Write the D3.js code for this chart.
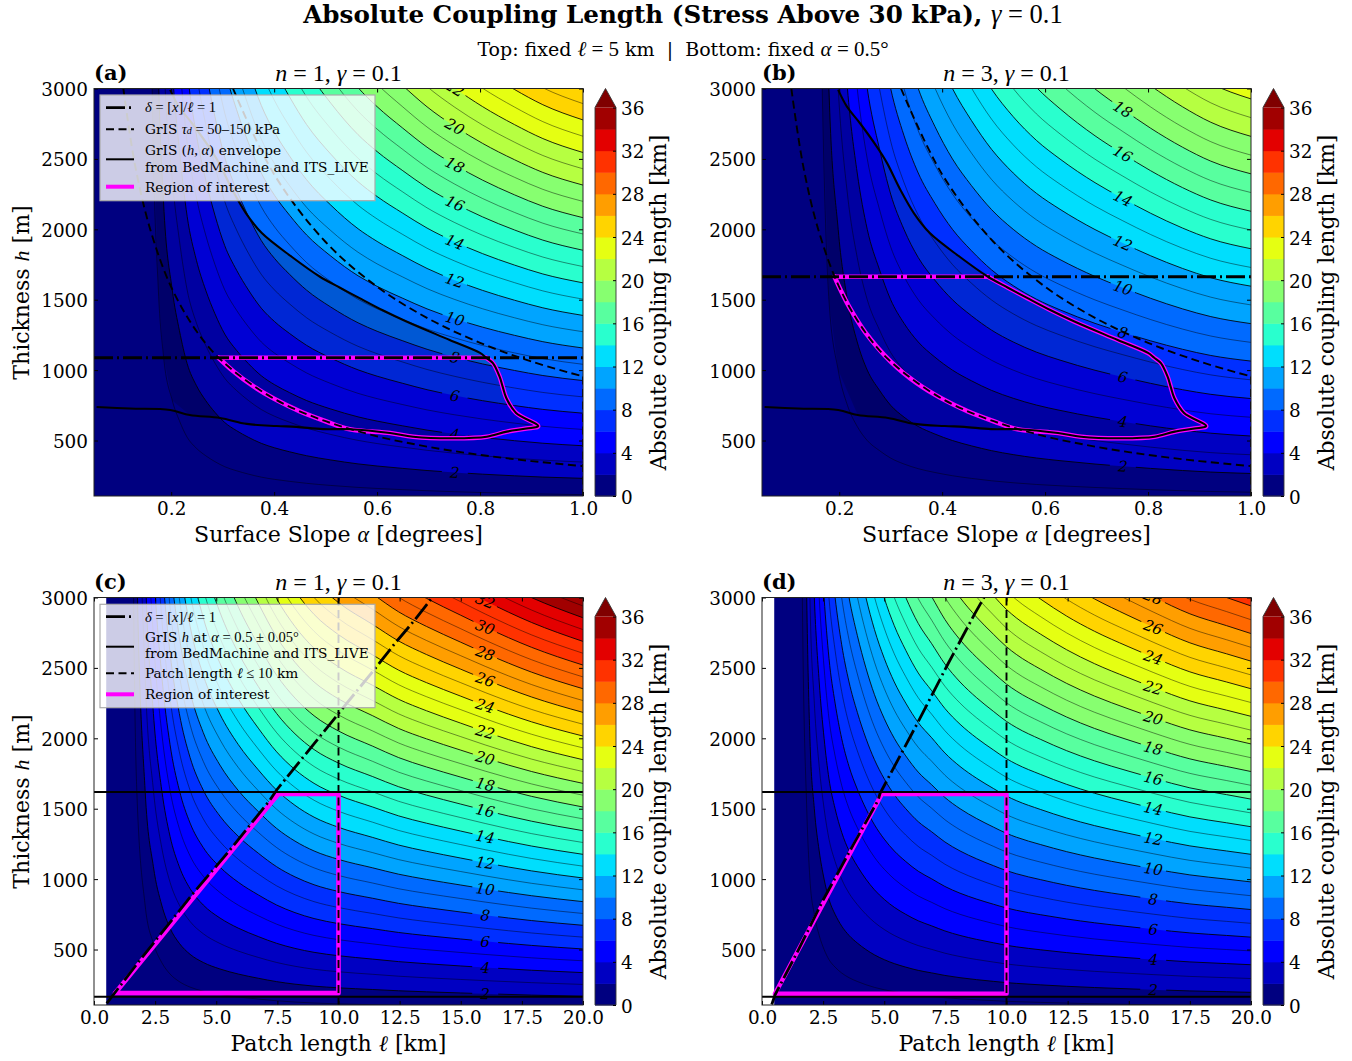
<!DOCTYPE html>
<html>
<head>
<meta charset="utf-8">
<script src="https://cdn.jsdelivr.net/npm/d3@7"></script>
<style>
body { margin: 0; background: #fff; }
text { font-family: "DejaVu Serif", serif; fill: #000; }
</style>
</head>
<body>
<svg id="chart" width="1352" height="1061"></svg>
<script>
// contour levels and colorbar
const contourLevels = d3.range(1, 37)
const bandEdges = d3.range(0, 38, 2)
const barTicks = [0, 4, 8, 12, 16, 20, 24, 28, 32, 36]
const labelLevels = d3.range(2, 36, 2)

// the field reads as proportional to thickness, so each panel is kept as one profile
// metres of ice per km of coupling length along the x axis
const slopeA = [.05, .10, .13, .15, .163, .175, .185, .202, .216, .231, .249, .267, .285, .304, .327, .35, .375, .401, .43, .463, .51, .563, .6, .65, .697, .751, .805, .867, .922, 1]
const metresA = [300000, 100000, 30000, 8000, 3000, 1569, 1100, 785, 640, 523, 445, 392, 350, 314, 285, 261.5, 240, 224, 210, 196, 181, 167, 159.5, 151, 143.5, 136.5, 130.5, 124.7, 120.2, 115.7]

const slopeB = [.05, .10, .13, .155, .167, .18, .198, .216, .235, .2545, .278, .30, .326, .3535, .386, .42, .457, .496, .538, .583, .629, .697, .751, .805, .867, .922, 1]
const metresB = [300000, 100000, 30000, 6000, 3000, 1500, 1000, 750, 600, 500, 429, 375, 333, 300, 273, 250, 231, 214, 200, 188, 178.5, 166.5, 158.5, 151, 143.5, 138, 133]

const patchC = [.5, 1, 1.3, 1.48, 1.62, 1.75, 2.09, 2.43, 2.77, 3.11, 3.49, 3.93, 4.47, 5.15, 5.9, 6.72, 7.47, 8.22, 9, 10, 11.4, 12.46, 13.6, 15, 16, 17.9, 20]
const metresC = [300000, 100000, 30000, 7000, 3000, 1632, 816, 544, 408, 326, 272, 233, 204, 181, 163, 148, 136, 127, 120, 114, 108, 103.5, 99.8, 95.8, 93, 88.2, 84]

const patchD = [.5, 1, 1.3, 1.5, 1.65, 1.83, 1.96, 2.14, 2.34, 2.54, 2.74, 2.99, 3.26, 3.56, 3.9, 4.25, 4.6, 5, 5.41, 5.88, 6.39, 6.94, 7.48, 8.1, 8.78, 9.46, 10, 10.4, 11.4, 12.46, 13.6, 14.97, 16, 17.5, 19, 20]
const metresD = [300000, 100000, 30000, 7000, 3000, 1500, 1000, 750, 600, 500, 428, 375, 333, 300, 273, 250, 231, 214, 200, 187.5, 176, 167, 158, 150, 143, 137, 132.5, 129.8, 124.5, 119.5, 115, 110.5, 107.3, 103, 100, 98]

// reference curves, top row
const tauLowSlope = [.107, .13, .16, .2, .25, .3, .4, .5, .6, .7, .8, .9, 1]
const tauLowH = [3000, 2450, 1990, 1590, 1272, 1061, 796, 637, 530, 455, 398, 354, 318]
const tauHighSlope = [.32, .4, .5, .6, .7, .8, .9, 1]
const tauHighH = [3000, 2390, 1910, 1592, 1365, 1194, 1061, 955]
const envSlope = [.198, .215, .24, .273, .293, .319, .345, .376, .434, .489, .528, .564, .611, .657, .741, .8, .812, .825, .838, .844, .851, .87, .913, .89, .852, .813, .748, .67, .625, .547, .495, .443, .405, .347, .295, .236, .198, .12, .055]
const envH = [2990, 2871, 2755, 2587, 2470, 2279, 2115, 1973, 1805, 1663, 1585, 1515, 1425, 1345, 1214, 1122, 1088, 1050, 953, 882, 802, 696, 603, 585, 563, 527, 516, 527, 553, 580, 581, 597, 603, 618, 660, 681, 717, 727, 738]
const roiSlopeA = [.292, .812, .825, .838, .844, .851, .87, .913, .89, .852, .813, .748, .67, .625, .547, .5, .45, .4, .36, .32, .292]
const roiHA = [1088, 1088, 1050, 953, 882, 802, 696, 603, 585, 563, 527, 516, 527, 553, 580, 637, 707, 796, 884, 994, 1088]
const roiSlopeB = [.191, .489, .528, .564, .611, .657, .741, .8, .812, .825, .838, .844, .851, .87, .913, .89, .852, .813, .748, .67, .625, .547, .5, .45, .4, .35, .3, .25, .22, .2, .191]
const roiHB = [1663, 1663, 1585, 1515, 1425, 1345, 1214, 1122, 1088, 1050, 953, 882, 802, 696, 603, 585, 563, 527, 516, 527, 553, 580, 637, 707, 796, 909, 1061, 1272, 1445, 1590, 1663]
const deltaHA = 1088
const deltaHB = 1663

// reference curves, bottom row
const deltaPatchC = [.52, 1.88, 4.06, 5.56, 7.2, 7.47, 10.06, 11.56, 12.31, 13.06, 13.81]
const deltaThickC = [118, 425, 900, 1207, 1562, 1633, 2189, 2509, 2675, 2828, 2994]
const deltaPatchD = [.4, .53, 1.49, 2.5, 3.73, 4.75, 4.83, 6.39, 7.62, 8.71, 9.08]
const deltaThickD = [110, 177, 497, 852, 1243, 1561, 1609, 2118, 2533, 2887, 3000]
const roiPatchC = [.86, 7.54, 10, 10, .86]
const roiThickC = [190, 1605, 1605, 190, 190]
const roiPatchD = [.53, 4.9, 10, 10, .53]
const roiThickD = [186, 1605, 1605, 186, 186]
const bandHigh = 1619
const bandLow = 165
const patchLimit = 10

const slopeTicks = [.2, .4, .6, .8, 1]
const patchTicks = [0, 2.5, 5, 7.5, 10, 12.5, 15, 17.5, 20]
const thickTicks = [500, 1000, 1500, 2000, 2500, 3000]

const svg = d3.select('#chart')
const mathFont = '"Liberation Serif", serif'
const dashDot = '19,4,2,4'
const dashed = '8,4.5'

// matplotlib jet
const jetR = d3.scaleLinear().domain([0, .35, .66, .89, 1]).range([0, 0, 1, 1, .5]).clamp(true)
const jetG = d3.scaleLinear().domain([0, .125, .375, .64, .91, 1]).range([0, 0, 1, 1, 0, 0]).clamp(true)
const jetB = d3.scaleLinear().domain([0, .11, .34, .65, 1]).range([.5, 1, 1, 0, 0]).clamp(true)
function bandColor(lo) {
    let t = Math.min(lo / 35, 1)
    return d3.rgb(jetR(t) * 255, jetG(t) * 255, jetB(t) * 255).formatRgb()
}

// text made of plain and math pieces
function rich(sel, spans) {
    spans.forEach(s => {
        let t = sel.append('tspan').text(s[0])
        if (s[1] === 'm') t.style('font-family', mathFont).style('font-style', 'italic').style('font-weight', 'normal')
        if (s[1] === 'r') t.style('font-family', mathFont).style('font-weight', 'normal')
        if (s[2]) t.attr('font-size', s[2])
    })
    return sel
}

function zip(xs, ys) {
    return xs.map((x, i) => [x, ys[i]])
}

function drawPanel(p) {
    let x = d3.scaleLinear().domain(p.xDomain).range([p.left, p.left + 489])
    let y = d3.scaleLinear().domain([106, 3000]).range([p.top + 407.5, p.top])
    let w = 489
    let h = 407.5
    let id = 'panel' + p.name

    let defs = svg.append('defs')
    defs.append('clipPath').attr('id', id + 'clip')
        .append('rect').attr('x', p.left).attr('y', p.top).attr('width', w).attr('height', h)

    let g = svg.append('g').attr('clip-path', `url(#${id}clip)`)
    let curve = d3.curveMonotoneX
    let pts = zip(p.xs, p.metres)

    // filled bands
    g.append('rect').attr('x', x(p.xs[0])).attr('y', p.top)
        .attr('width', x(p.xs[p.xs.length - 1]) - x(p.xs[0])).attr('height', h)
        .attr('fill', bandColor(0))
    let area = lvl => d3.area().curve(curve)
        .x(d => x(d[0])).y0(y(3000)).y1(d => y(lvl * d[1]))
    bandEdges.slice(1).forEach(lvl => {
        g.append('path').attr('d', area(lvl)(pts)).attr('fill', bandColor(lvl))
    })

    // darker shading inside the envelope
    if (p.shade) {
        let poly = zip(envSlope, envH).filter((d, i) => i < 23 || d[0] >= .21)
        let left = pts.filter(d => d[0] <= .21 && d[1] <= 3000).reverse()
        g.append('path').attr('d', d3.line()(poly.concat(left).map(d => [x(d[0]), y(d[1])])) + 'Z')
            .attr('fill', '#000').attr('fill-opacity', .17)
    }

    // contour lines, even ones broken around their labels
    let mask = defs.append('mask').attr('id', id + 'mask').attr('maskUnits', 'userSpaceOnUse')
        .attr('x', p.left - 2).attr('y', p.top - 2).attr('width', w + 4).attr('height', h + 4)
    mask.append('rect').attr('x', p.left - 2).attr('y', p.top - 2).attr('width', w + 4).attr('height', h + 4).attr('fill', '#fff')

    let thin = g.append('g').attr('fill', 'none').attr('stroke', '#000').attr('stroke-width', .45)
    let thick = g.append('g').attr('fill', 'none').attr('stroke', '#000').attr('stroke-width', .85).attr('mask', `url(#${id}mask)`)
    contourLevels.forEach(lvl => {
        let line = d3.line().curve(curve).x(d => x(d[0])).y(d => y(lvl * d[1]))
        ;(lvl % 2 ? thin : thick).append('path').attr('d', line(pts))
    })

    let at = p.xs.indexOf(p.labelAt)
    labelLevels.forEach(lvl => {
        let px = x(p.xs[at])
        let py = y(lvl * p.metres[at])
        if (py < p.top - 12 || py > p.top + h) return
        let dx = x(p.xs[at + 2]) - px
        let dy = y(lvl * p.metres[at + 2]) - py
        let ang = Math.atan2(dy, dx) * 180 / Math.PI
        mask.append('rect').attr('x', -13).attr('y', -5).attr('width', 26).attr('height', 10).attr('fill', '#000')
            .attr('transform', `translate(${px},${py}) rotate(${ang})`)
        g.append('text').text(lvl).attr('font-size', 15).attr('font-style', 'italic')
            .attr('text-anchor', 'middle').attr('dy', '.36em')
            .attr('transform', `translate(${px},${py}) rotate(${ang})`)
    })

    // region of interest under the black guides
    let guide = d3.line().x(d => x(d[0])).y(d => y(d[1]))
    let smooth = d3.line().curve(d3.curveCatmullRom.alpha(.5)).x(d => x(d[0])).y(d => y(d[1]))
    let roiPaths = p.smooth ? [guide(p.roi.slice(0, 2)), smooth(p.roi.slice(1))] : [guide(p.roi)]
    roiPaths.forEach(d => {
        g.append('path').attr('d', d).attr('fill', 'none')
            .attr('stroke', '#f0f').attr('stroke-width', 4.6).attr('stroke-linejoin', 'round').attr('stroke-linecap', 'round')
    })
    p.guides.forEach(c => {
        g.append('path').attr('d', (c.pts.length > 2 && p.smooth ? smooth : guide)(c.pts)).attr('fill', 'none').attr('stroke', '#000')
            .attr('stroke-width', c.width).attr('stroke-dasharray', c.dash)
    })

    // axes with inward ticks on all four sides
    let fmt = p.xFormat
    let axes = svg.append('g').attr('font-size', 18.4)
    let addAxis = (gen, tx, ty, labels) => {
        let a = axes.append('g').attr('transform', `translate(${tx},${ty})`).call(gen)
        a.selectAll('.domain').remove()
        a.selectAll('line').attr('stroke', '#000').attr('stroke-width', 1)
        a.selectAll('text').style('font-family', '"DejaVu Serif", serif').attr('font-size', 18.4)
        if (!labels) a.selectAll('text').remove()
        return a
    }
    addAxis(d3.axisBottom(x).tickValues(p.xTicks).tickFormat(fmt).tickSize(-4).tickPadding(6), 0, p.top + h, true)
    addAxis(d3.axisTop(x).tickValues(p.xTicks).tickSize(-4), 0, p.top, false)
    addAxis(d3.axisLeft(y).tickValues(thickTicks).tickFormat(d3.format('d')).tickSize(-4).tickPadding(6), p.left, 0, true)
        .selectAll('text').attr('dy', '.38em')
    addAxis(d3.axisRight(y).tickValues(thickTicks).tickSize(-4), p.left + w, 0, false)
    svg.append('rect').attr('x', p.left).attr('y', p.top).attr('width', w).attr('height', h)
        .attr('fill', 'none').attr('stroke', '#222').attr('stroke-width', 1)

    // titles
    svg.append('text').attr('x', p.left).attr('y', p.top - 9).attr('font-size', 21).attr('font-weight', 'bold').text(`(${p.name})`)
    rich(svg.append('text').attr('x', p.left + w / 2).attr('y', p.top - 8).attr('text-anchor', 'middle').attr('font-size', 24),
        [['n', 'm'], [' = ' + p.n + ', ', 'r'], ['γ', 'm'], [' = 0.1', 'r']])
    rich(svg.append('text').attr('x', p.left + w / 2).attr('y', p.top + h + 46).attr('text-anchor', 'middle').attr('font-size', 22.1), p.xLabel)
    if (p.yLabel) {
        rich(svg.append('text').attr('transform', `translate(${p.left - 65},${p.top + 204}) rotate(-90)`).attr('text-anchor', 'middle').attr('font-size', 22),
            [['Thickness '], ['h', 'm'], [' [m]']])
    }

    // colorbar
    let bx = p.left + 501
    let by = d3.scaleLinear().domain([0, 36]).range([p.top + h, p.top + 19])
    let bar = svg.append('g')
    d3.pairs(bandEdges).forEach(e => {
        bar.append('rect').attr('x', bx).attr('width', 21).attr('y', by(e[1])).attr('height', by(e[0]) - by(e[1]) + .5).attr('fill', bandColor(e[0]))
    })
    let tri = [[bx, by(36)], [bx + 10.5, by(36) - 19], [bx + 21, by(36)]]
    bar.append('path').attr('d', d3.line()(tri) + 'Z').attr('fill', bandColor(36))
    bar.append('path').attr('d', d3.line()([[bx, by(0)], tri[0], tri[1], tri[2], [bx + 21, by(0)]]) + 'Z')
        .attr('fill', 'none').attr('stroke', '#333').attr('stroke-width', .9)
    let ba = bar.append('g').attr('transform', `translate(${bx + 21},0)`)
        .call(d3.axisRight(by).tickValues(barTicks).tickSize(-3).tickPadding(5))
    ba.selectAll('.domain').remove()
    ba.selectAll('text').style('font-family', '"DejaVu Serif", serif').attr('font-size', 18.4).attr('dy', '.38em')
    svg.append('text').attr('transform', `translate(${bx + 71},${p.top + 214}) rotate(-90)`).attr('text-anchor', 'middle')
        .attr('font-size', 21.9).text('Absolute coupling length [km]')

    // legend
    let lx = p.left + 6
    let ly = p.top + p.legendTop
    if (!p.legend.length) return
    let lg = svg.append('g')
    lg.append('rect').attr('x', lx).attr('y', ly).attr('width', 275).attr('height', p.legendHeight)
        .attr('fill', '#fff').attr('fill-opacity', .8).attr('stroke', '#aaa').attr('stroke-width', 1.2)
    p.legend.forEach(r => {
        lg.append('line').attr('x1', lx + 6).attr('x2', lx + 34).attr('y1', ly + r.sample).attr('y2', ly + r.sample)
            .attr('stroke', r.color || '#000').attr('stroke-width', r.width).attr('stroke-dasharray', r.dash)
        r.rows.forEach(t => {
            rich(lg.append('text').attr('x', lx + 45).attr('y', ly + t[0]).attr('font-size', 13.7), t[1])
        })
    })
}

const legendTop = [
    { sample: 12.7, width: 2.8, dash: dashDot, rows: [[17, [['δ', 'm', 14.5], [' = [', 'r', 14.5], ['x', 'm', 14.5], [']/', 'r', 14.5], ['ℓ', 'm', 14.5], [' = 1', 'r', 14.5]]]] },
    { sample: 34.3, width: 2, dash: dashed, rows: [[38.5, [['GrIS '], ['τ', 'm', 14.5], ['d', 'm', 10], [' = 50–150', 'r', 14.5], [' kPa']]]] },
    { sample: 64.3, width: 2, rows: [[60, [['GrIS ('], ['h', 'm', 14.5], [', ', 'r', 14.5], ['α', 'm', 14.5], [') envelope']]], [76.7, [['from BedMachine and ITS_LIVE']]]] },
    { sample: 91.7, width: 4, color: '#f0f', rows: [[97, [['Region of interest']]]] }
]
const legendBottom = [
    { sample: 12.4, width: 2.8, dash: dashDot, rows: [[17.4, [['δ', 'm', 14.5], [' = [', 'r', 14.5], ['x', 'm', 14.5], [']/', 'r', 14.5], ['ℓ', 'm', 14.5], [' = 1', 'r', 14.5]]]] },
    { sample: 42.4, width: 2, rows: [[38, [['GrIS '], ['h', 'm', 14.5], [' at '], ['α', 'm', 14.5], [' = 0.5 ± 0.05°', 'r', 14.5]]], [53.4, [['from BedMachine and ITS_LIVE']]]] },
    { sample: 69, width: 2, dash: dashed, rows: [[74, [['Patch length '], ['ℓ', 'm', 14.5], [' ≤ 10', 'r', 14.5], [' km']]]] },
    { sample: 90, width: 4, color: '#f0f', rows: [[95, [['Region of interest']]]] }
]

const slopeLabel = [['Surface Slope '], ['α', 'm'], [' [degrees]']]
const patchLabel = [['Patch length '], ['ℓ', 'm'], [' [km]']]
const slopeFmt = d3.format('.1f')

function topGuides(deltaH) {
    return [
        { pts: zip(tauLowSlope, tauLowH), width: 1.9, dash: dashed },
        { pts: zip(tauHighSlope, tauHighH), width: 1.9, dash: dashed },
        { pts: [[1, 955], [1, 106]], width: 1.9, dash: dashed },
        { pts: zip(envSlope, envH), width: 2.1 },
        { pts: [[.05, deltaH], [1, deltaH]], width: 2.8, dash: dashDot }
    ]
}
function bottomGuides(dp, dh) {
    return [
        { pts: [[0, bandHigh], [20, bandHigh]], width: 2 },
        { pts: [[0, bandLow], [20, bandLow]], width: 2 },
        { pts: [[patchLimit, 3000], [patchLimit, 106]], width: 1.9, dash: dashed },
        { pts: zip(dp, dh), width: 2.8, dash: dashDot }
    ]
}

drawPanel({ name: 'a', left: 94, top: 88.5, n: 1, xDomain: [.05, 1], xs: slopeA, metres: metresA, labelAt: .751, shade: true, yLabel: true, smooth: true,
    roi: zip(roiSlopeA, roiHA), guides: topGuides(deltaHA), xTicks: slopeTicks, xFormat: slopeFmt, xLabel: slopeLabel,
    legend: legendTop, legendTop: 6.5, legendHeight: 105.7 })
drawPanel({ name: 'b', left: 762, top: 88.5, n: 3, xDomain: [.05, 1], xs: slopeB, metres: metresB, labelAt: .751, shade: true, yLabel: false, smooth: true,
    roi: zip(roiSlopeB, roiHB), guides: topGuides(deltaHB), xTicks: slopeTicks, xFormat: slopeFmt, xLabel: slopeLabel,
    legend: [], legendTop: 0, legendHeight: 0 })
drawPanel({ name: 'c', left: 94, top: 597.5, n: 1, xDomain: [0, 20], xs: patchC, metres: metresC, labelAt: 16, shade: false, yLabel: true, smooth: false,
    roi: zip(roiPatchC, roiThickC), guides: bottomGuides(deltaPatchC, deltaThickC), xTicks: patchTicks, xFormat: slopeFmt, xLabel: patchLabel,
    legend: legendBottom, legendTop: 6.8, legendHeight: 103.4 })
drawPanel({ name: 'd', left: 762, top: 597.5, n: 3, xDomain: [0, 20], xs: patchD, metres: metresD, labelAt: 16, shade: false, yLabel: false, smooth: false,
    roi: zip(roiPatchD, roiThickD), guides: bottomGuides(deltaPatchD, deltaThickD), xTicks: patchTicks, xFormat: slopeFmt, xLabel: patchLabel,
    legend: [], legendTop: 0, legendHeight: 0 })

// figure titles
rich(svg.append('text').attr('x', 683).attr('y', 23).attr('text-anchor', 'middle').attr('font-size', 24.6).attr('font-weight', 'bold'),
    [['Absolute Coupling Length (Stress Above 30 kPa), '], ['γ', 'm', 26.5], [' = 0.1', 'r', 26.5]])
rich(svg.append('text').attr('x', 683).attr('y', 56).attr('text-anchor', 'middle').attr('font-size', 19),
    [['Top: fixed '], ['ℓ', 'm', 21], [' = 5', 'r', 21], [' km\u00a0\u00a0|\u00a0\u00a0Bottom: fixed '], ['α', 'm', 21], [' = 0.5°', 'r', 21]])
</script>
</body>
</html>
